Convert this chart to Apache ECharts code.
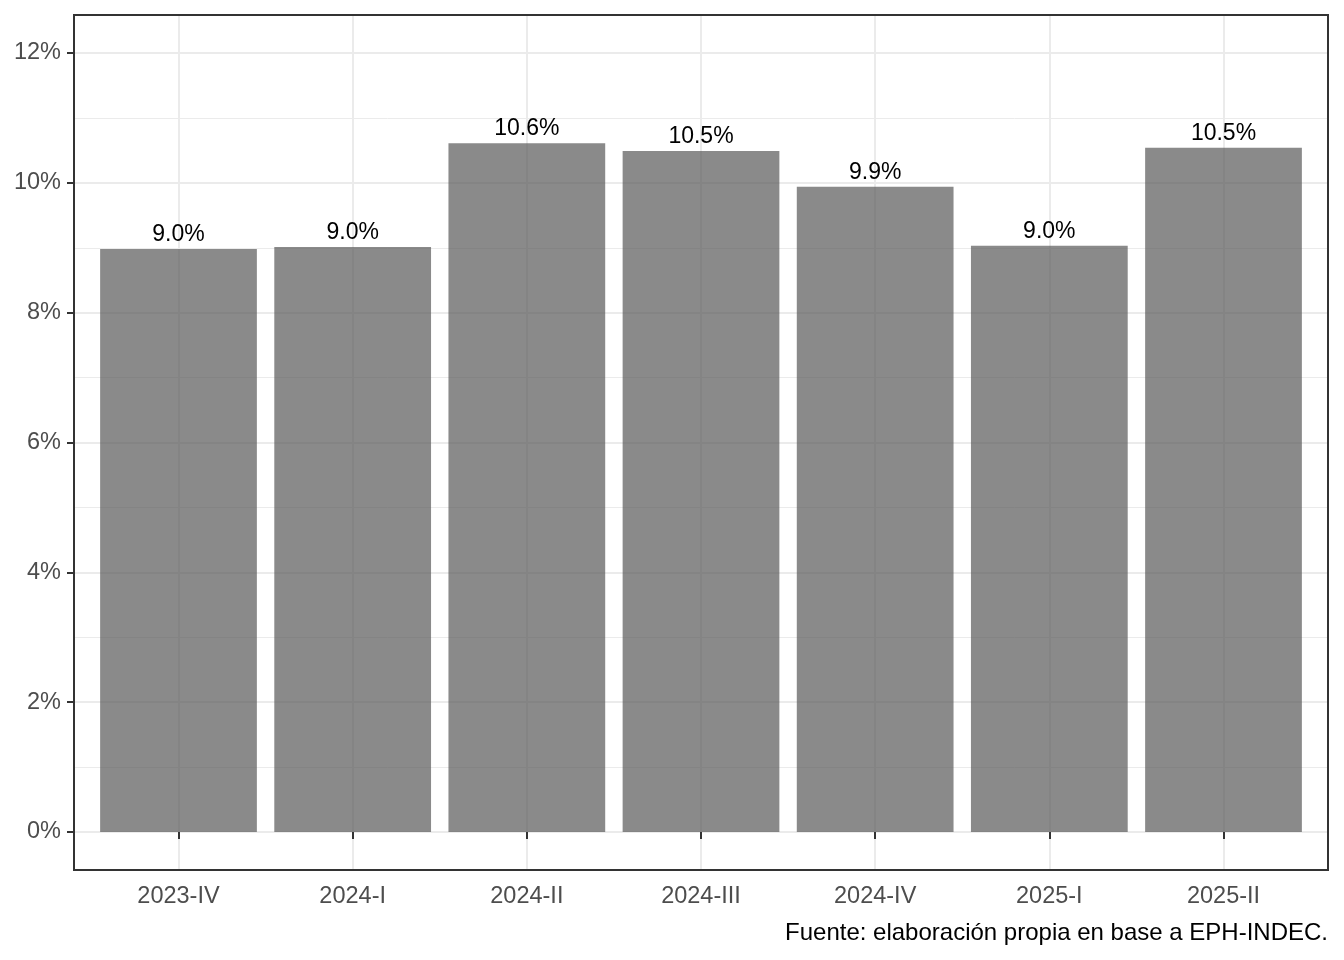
<!DOCTYPE html>
<html>
<head>
<meta charset="utf-8">
<script src="https://cdn.jsdelivr.net/npm/echarts@6/dist/echarts.min.js"></script>
<style>
  html, body { margin: 0; padding: 0; background: #ffffff; }
  #chart { width: 1344px; height: 960px; }
</style>
</head>
<body>
<div id="chart"></div>
<script>
const categories = ['2023-IV', '2024-I', '2024-II', '2024-III', '2024-IV', '2025-I', '2025-II'];
const values = [8.98, 9.01, 10.61, 10.49, 9.94, 9.03, 10.54];
const yMin = 0, yMax = 12, yStep = 2;
const caption = 'Fuente: elaboración propia en base a EPH-INDEC.';

const FONT = "'Liberation Sans', Arial, sans-serif";
const W = 1344, H = 960;
const panelL = 74, panelR = 1328, panelT = 15, panelB = 870;
const unit = (panelR - panelL) / (categories.length - 1 + 1.2);
const firstC = panelL + 0.6 * unit;
const lastC = panelL + (categories.length - 1 + 0.6) * unit;
const zeroY = 832, topY = 53;                      // positions of yMin / yMax in the panel
const pxPerUnit = (zeroY - topY) / (yMax - yMin);

const chart = echarts.init(document.getElementById('chart'), null, { renderer: 'canvas' });
chart.setOption({
  animation: false,
  backgroundColor: '#ffffff',
  textStyle: { fontFamily: FONT },
  title: {
    text: caption,
    right: W - panelR,
    top: 921,
    padding: 0,
    textStyle: { fontFamily: FONT, fontSize: 24, fontWeight: 'normal', color: '#000000' }
  },
  grid: [
    { // panel border
      left: panelL, right: W - panelR, top: panelT, bottom: H - panelB,
      show: true, borderColor: '#333333', borderWidth: 2, backgroundColor: 'transparent', z: 5
    },
    { // y scale
      left: panelL, right: W - panelR, top: topY, bottom: H - zeroY
    },
    { // x scale / bars
      left: firstC, right: W - lastC, top: panelT, bottom: H - panelB
    }
  ],
  xAxis: [
    { gridIndex: 0, type: 'value', show: false, min: 0, max: 1 },
    { gridIndex: 1, type: 'value', show: false, min: 0, max: 1 },
    {
      gridIndex: 2, type: 'category', data: categories, boundaryGap: false,
      axisLine: { show: false },
      axisTick: { show: true, length: 7, interval: 0, lineStyle: { color: '#333333', width: 2 } },
      axisLabel: { interval: 0, margin: 15, fontSize: 23.5, color: '#4d4d4d', fontFamily: FONT },
      splitLine: { show: true, interval: 0, lineStyle: { color: '#ebebeb', width: 2 } }
    }
  ],
  yAxis: [
    { gridIndex: 0, type: 'value', show: false, min: 0, max: 1 },
    {
      gridIndex: 1, type: 'value', min: yMin, max: yMax, interval: yStep,
      axisLine: { show: false },
      axisTick: { show: true, length: 7, lineStyle: { color: '#333333', width: 2 } },
      axisLabel: { margin: 13, padding: [4, 0, 0, 0], fontSize: 23.5, color: '#4d4d4d', fontFamily: FONT, formatter: '{value}%' },
      splitLine: { show: true, lineStyle: { color: '#ebebeb', width: 2 } },
      minorTick: { show: false, splitNumber: 2 },
      minorSplitLine: { show: true, lineStyle: { color: '#ebebeb', width: 1 } }
    },
    {
      gridIndex: 2, type: 'value', show: false,
      min: yMin - (panelB - zeroY) / pxPerUnit, max: yMax + (topY - panelT) / pxPerUnit
    }
  ],
  series: [
    {
      type: 'bar',
      xAxisIndex: 2, yAxisIndex: 2,
      data: values,
      barWidth: 0.9 * unit,
      clip: false,
      itemStyle: { color: 'rgba(89,89,89,0.7)' },
      label: {
        show: true, position: 'top', distance: 3,
        fontSize: 23, color: '#000000', fontFamily: FONT,
        formatter: p => p.value.toFixed(1) + '%'
      },
      z: 2
    }
  ]
});
</script>
</body>
</html>
